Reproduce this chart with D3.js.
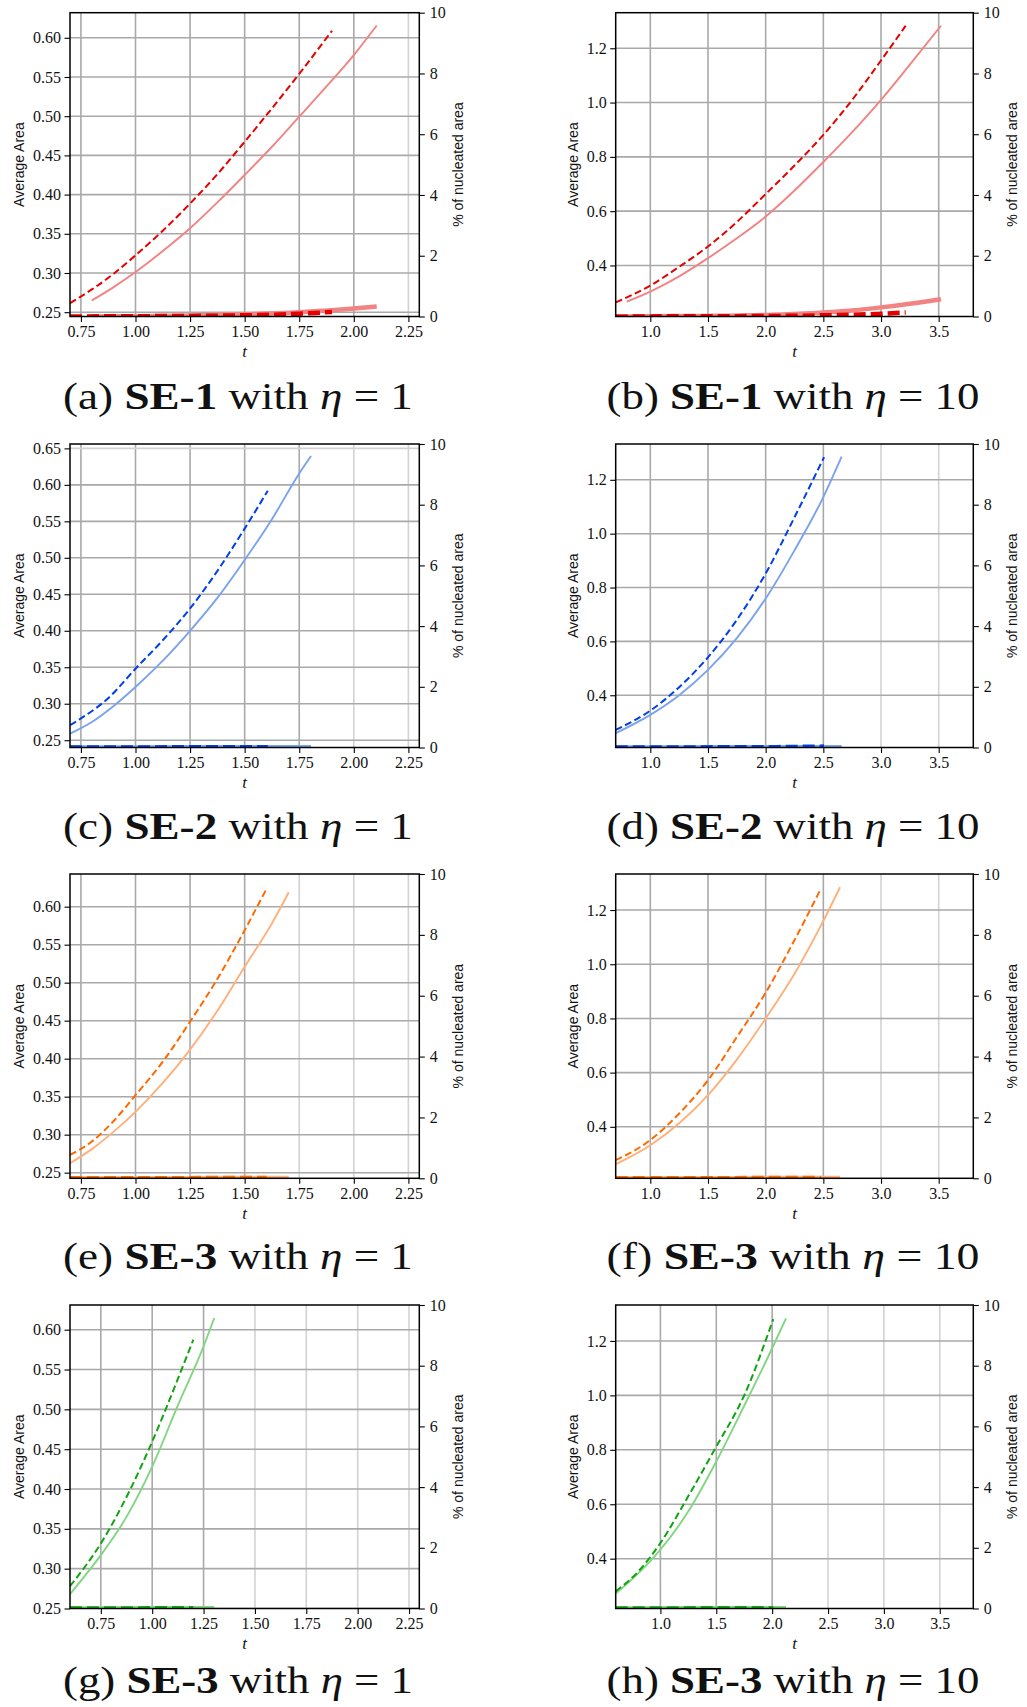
<!DOCTYPE html>
<html>
<head>
<meta charset="utf-8">
<script src="https://cdnjs.cloudflare.com/ajax/libs/d3/7.8.5/d3.min.js"></script>
<style>
html, body { margin: 0; padding: 0; background: #fff; }
svg { display: block; }
</style>
</head>
<body>
<svg id="fig" width="1027" height="1707"></svg>
<script>
// tick values
var X_TICKS_SHORT = [0.75, 1.00, 1.25, 1.50, 1.75, 2.00, 2.25];
var X_TICKS_LONG = [1.0, 1.5, 2.0, 2.5, 3.0, 3.5];
var Y_TICKS_SMALL = [0.25, 0.30, 0.35, 0.40, 0.45, 0.50, 0.55, 0.60];
var Y_TICKS_SMALL_C = [0.25, 0.30, 0.35, 0.40, 0.45, 0.50, 0.55, 0.60, 0.65];
var Y_TICKS_LARGE = [0.4, 0.6, 0.8, 1.0, 1.2];
var RIGHT_TICKS = [0, 2, 4, 6, 8, 10];

// (a) SE-1, eta = 1
var a_dash = [[0.70,0.2615],[0.80,0.279],[0.90,0.299],[1.00,0.3225],[1.125,0.354],[1.25,0.3886],[1.375,0.426],[1.50,0.4674],[1.625,0.510],[1.75,0.554],[1.90,0.609]];
var a_solid = [[0.80,0.265],[0.90,0.282],[1.00,0.3012],[1.125,0.328],[1.25,0.357],[1.375,0.390],[1.50,0.425],[1.625,0.461],[1.75,0.4994],[1.875,0.538],[2.00,0.578],[2.105,0.6157]];
var a_nSolid = [[0.80,0.0],[1.00,0.01],[1.25,0.03],[1.50,0.07],[1.75,0.14],[2.00,0.26],[2.105,0.33]];
var a_nDash = [[0.70,0.0],[1.00,0.01],[1.25,0.02],[1.50,0.04],[1.75,0.09],[1.90,0.15]];

// (b) SE-1, eta = 10
var b_dash = [[0.70,0.264],[1.00,0.326],[1.25,0.395],[1.50,0.470],[1.75,0.560],[2.00,0.663],[2.25,0.768],[2.50,0.881],[2.75,1.010],[3.00,1.155],[3.214,1.283]];
var b_solid = [[0.795,0.267],[1.00,0.304],[1.25,0.360],[1.50,0.427],[1.75,0.500],[2.00,0.580],[2.25,0.676],[2.50,0.781],[2.75,0.891],[3.00,1.010],[3.25,1.140],[3.52,1.283]];
var b_nSolid = [[0.795,0.0],[1.00,0.01],[1.50,0.02],[2.00,0.05],[2.50,0.13],[2.75,0.20],[3.00,0.30],[3.25,0.42],[3.52,0.57]];
var b_nDash = [[0.70,0.0],[1.50,0.01],[2.00,0.015],[2.50,0.04],[2.75,0.06],[3.00,0.09],[3.214,0.13]];

// (c) SE-2, eta = 1
var c_dash = [[0.70,0.2706],[0.75,0.2798],[0.88,0.309],[1.00,0.348],[1.125,0.387],[1.25,0.4306],[1.375,0.482],[1.50,0.540],[1.606,0.592]];
var c_solid = [[0.70,0.259],[0.80,0.275],[0.90,0.297],[1.00,0.323],[1.125,0.359],[1.25,0.400],[1.375,0.445],[1.50,0.497],[1.625,0.553],[1.75,0.6157],[1.804,0.6395]];
var c_nSolid = [[0.70,0.0],[1.30,0.005],[1.804,0.01]];
var c_nDash = [[0.70,0.0],[1.20,0.005],[1.606,0.01]];

// (d) SE-2, eta = 10
var d_dash = [[0.70,0.2715],[1.00,0.343],[1.25,0.430],[1.50,0.541],[1.75,0.680],[2.00,0.852],[2.25,1.061],[2.506,1.284]];
var d_solid = [[0.70,0.259],[1.00,0.327],[1.25,0.400],[1.50,0.494],[1.75,0.612],[2.00,0.759],[2.25,0.938],[2.50,1.136],[2.659,1.286]];
var d_nSolid = [[0.70,0.0],[1.70,0.005],[2.659,0.01]];
var d_nDash = [[0.70,0.0],[2.00,0.01],[2.506,0.03]];

// (e) SE-3, eta = 1
var e_dash = [[0.70,0.2733],[0.80,0.291],[0.90,0.318],[1.00,0.352],[1.125,0.396],[1.25,0.4487],[1.375,0.505],[1.50,0.569],[1.601,0.624]];
var e_solid = [[0.70,0.2624],[0.80,0.281],[0.90,0.304],[1.00,0.330],[1.125,0.368],[1.25,0.412],[1.375,0.463],[1.50,0.521],[1.625,0.578],[1.702,0.619]];
var e_nSolid = [[0.70,0.0],[1.20,0.005],[1.702,0.01]];
var e_nDash = [[0.70,0.0],[1.20,0.005],[1.601,0.01]];

// (f) SE-3, eta = 10
var f_dash = [[0.70,0.277],[1.00,0.351],[1.25,0.449],[1.50,0.572],[1.75,0.731],[2.00,0.895],[2.25,1.089],[2.48,1.280]];
var f_solid = [[0.70,0.262],[1.00,0.332],[1.25,0.413],[1.50,0.517],[1.75,0.648],[2.00,0.800],[2.25,0.965],[2.50,1.160],[2.645,1.284]];
var f_nSolid = [[0.70,0.0],[1.70,0.005],[2.645,0.01]];
var f_nDash = [[0.70,0.0],[1.70,0.005],[2.48,0.01]];

// (g) SE-3, eta = 1
var g_dash = [[0.60,0.278],[0.75,0.3317],[0.90,0.403],[1.00,0.4595],[1.10,0.522],[1.20,0.5874]];
var g_solid = [[0.60,0.268],[0.70,0.300],[0.75,0.317],[0.875,0.365],[1.00,0.428],[1.125,0.505],[1.25,0.579],[1.302,0.6147]];
var g_nSolid = [[0.60,0.0],[1.00,0.005],[1.302,0.01]];
var g_nDash = [[0.60,0.0],[1.00,0.005],[1.20,0.01]];

// (h) SE-3, eta = 10
var h_dash = [[0.60,0.280],[0.80,0.352],[1.00,0.4576],[1.25,0.630],[1.50,0.812],[1.75,1.000],[2.01,1.280]];
var h_solid = [[0.60,0.272],[0.80,0.345],[1.00,0.433],[1.25,0.574],[1.50,0.757],[1.75,0.962],[2.00,1.173],[2.124,1.283]];
var h_nSolid = [[0.60,0.0],[1.40,0.005],[2.124,0.01]];
var h_nDash = [[0.60,0.0],[1.40,0.005],[2.01,0.01]];

var COLORS = {
  red:    { dark: "#e60000", light: "#f28383" },
  blue:   { dark: "#0040e6", light: "#7ba2ee" },
  orange: { dark: "#ff6a00", light: "#ffb07a" },
  green:  { dark: "#10a510", light: "#82d682" }
};

var SERIF = "'Liberation Serif', 'Times New Roman', Times, serif";
var SANS = "'Liberation Sans', Arial, Helvetica, sans-serif";

// layout of the 2 x 4 grid of subfigures
var COL_X = [[70, 419.3], [615.7, 973.3]];
var ROW_Y = [[12.7, 316.5], [444, 747.5], [874, 1178.3], [1305, 1608.5]];
var CAPTION_DY = [92, 91.5, 91, 84];
var CAPTION_CX = [238, 793];
var CAPTION_W = [350, 373];
var GRID = "#a9a9a9", GRID_LIGHT = "#d2d2d2";

var panels = [
  {key: "a", col: 0, row: 0, se: "SE-1", eta: "1",  color: "red",    xDom: [0.70, 2.30], yDom: [0.2445, 0.632], xTicks: X_TICKS_SHORT, yTicks: Y_TICKS_SMALL,   dash: a_dash, solid: a_solid, nDash: a_nDash, nSolid: a_nSolid},
  {key: "b", col: 1, row: 0, se: "SE-1", eta: "10", color: "red",    xDom: [0.70, 3.80], yDom: [0.212, 1.331],  xTicks: X_TICKS_LONG,  yTicks: Y_TICKS_LARGE,   dash: b_dash, solid: b_solid, nDash: b_nDash, nSolid: b_nSolid},
  {key: "c", col: 0, row: 1, se: "SE-2", eta: "1",  color: "blue",   xDom: [0.70, 2.30], yDom: [0.240, 0.656],  xTicks: X_TICKS_SHORT, yTicks: Y_TICKS_SMALL_C, dash: c_dash, solid: c_solid, nDash: c_nDash, nSolid: c_nSolid},
  {key: "d", col: 1, row: 1, se: "SE-2", eta: "10", color: "blue",   xDom: [0.70, 3.80], yDom: [0.206, 1.333],  xTicks: X_TICKS_LONG,  yTicks: Y_TICKS_LARGE,   dash: d_dash, solid: d_solid, nDash: d_nDash, nSolid: d_nSolid},
  {key: "e", col: 0, row: 2, se: "SE-3", eta: "1",  color: "orange", xDom: [0.70, 2.30], yDom: [0.2426, 0.643], xTicks: X_TICKS_SHORT, yTicks: Y_TICKS_SMALL,   dash: e_dash, solid: e_solid, nDash: e_nDash, nSolid: e_nSolid},
  {key: "f", col: 1, row: 2, se: "SE-3", eta: "10", color: "orange", xDom: [0.70, 3.80], yDom: [0.210, 1.333],  xTicks: X_TICKS_LONG,  yTicks: Y_TICKS_LARGE,   dash: f_dash, solid: f_solid, nDash: f_nDash, nSolid: f_nSolid},
  {key: "g", col: 0, row: 3, se: "SE-3", eta: "1",  color: "green",  xDom: [0.60, 2.30], yDom: [0.25, 0.631],   xTicks: X_TICKS_SHORT, yTicks: Y_TICKS_SMALL,   dash: g_dash, solid: g_solid, nDash: g_nDash, nSolid: g_nSolid},
  {key: "h", col: 1, row: 3, se: "SE-3", eta: "10", color: "green",  xDom: [0.60, 3.80], yDom: [0.217, 1.332],  xTicks: X_TICKS_LONG,  yTicks: Y_TICKS_LARGE,   dash: h_dash, solid: h_solid, nDash: h_nDash, nSolid: h_nSolid}
];

var svg = d3.select("#fig");
var defs = svg.append("defs");

panels.forEach(function(p) {
  var x0 = COL_X[p.col][0], x1 = COL_X[p.col][1];
  var y0 = ROW_Y[p.row][0], y1 = ROW_Y[p.row][1];
  var x = d3.scaleLinear().domain(p.xDom).range([x0, x1]);
  var y = d3.scaleLinear().domain(p.yDom).range([y1, y0]);
  var y2 = d3.scaleLinear().domain([0, 10]).range([y1, y0]);
  var col = COLORS[p.color];
  var fmt = p.col === 0 ? d3.format(".2f") : d3.format(".1f");

  var clipId = "clip-" + p.key;
  defs.append("clipPath").attr("id", clipId).append("rect")
      .attr("x", x0).attr("y", y0).attr("width", x1 - x0).attr("height", y1 - y0);

  var g = svg.append("g").attr("class", "panel-" + p.key);

  // grid: lines past the end of the data come out lighter in the original
  var tMax = d3.max([].concat(p.dash, p.solid, p.nDash, p.nSolid), function(d) { return d[0]; });
  var vMax = d3.max([].concat(p.dash, p.solid), function(d) { return d[1]; });
  var grid = g.append("g").attr("clip-path", "url(#" + clipId + ")");
  grid.selectAll("line.gv").data(p.xTicks).join("line").attr("class", "gv")
      .attr("x1", function(d) { return x(d); }).attr("x2", function(d) { return x(d); })
      .attr("y1", y0).attr("y2", y1)
      .attr("stroke", function(d) { return d > tMax ? GRID_LIGHT : GRID; })
      .attr("stroke-width", 1.6);
  grid.selectAll("line.gh").data(p.yTicks).join("line").attr("class", "gh")
      .attr("x1", x0).attr("x2", x1)
      .attr("y1", function(d) { return y(d); }).attr("y2", function(d) { return y(d); })
      .attr("stroke", function(d) { return d > vMax ? GRID_LIGHT : GRID; })
      .attr("stroke-width", 1.6);

  var line = d3.line().x(function(d) { return x(d[0]); }).y(function(d) { return y(d[1]); })
      .curve(d3.curveMonotoneX);
  var line2 = d3.line().x(function(d) { return x(d[0]); }).y(function(d) { return y2(d[1]); })
      .curve(d3.curveMonotoneX);

  var marks = g.append("g").attr("clip-path", "url(#" + clipId + ")").attr("fill", "none");
  marks.append("path").datum(p.solid).attr("d", line)
      .attr("stroke", col.light).attr("stroke-width", 1.9);
  marks.append("path").datum(p.dash).attr("d", line)
      .attr("stroke", col.dark).attr("stroke-width", 2).attr("stroke-dasharray", "7,3.5");
  marks.append("path").datum(p.nSolid).attr("d", line2)
      .attr("stroke", col.light).attr("stroke-width", 4.5);
  marks.append("path").datum(p.nDash).attr("d", line2)
      .attr("stroke", col.dark).attr("stroke-width", 4.5).attr("stroke-dasharray", "12,5");

  // axes
  var axL = g.append("g").attr("transform", "translate(" + x0 + ",0)")
      .call(d3.axisLeft(y).tickValues(p.yTicks).tickFormat(fmt).tickSize(5.5).tickPadding(3.5));
  var axB = g.append("g").attr("transform", "translate(0," + y1 + ")")
      .call(d3.axisBottom(x).tickValues(p.xTicks).tickFormat(fmt).tickSize(5.5).tickPadding(4));
  var axR = g.append("g").attr("transform", "translate(" + x1 + ",0)")
      .call(d3.axisRight(y2).tickValues(RIGHT_TICKS).tickFormat(d3.format("d")).tickSize(5.5).tickPadding(5));
  [axL, axB, axR].forEach(function(a) {
    a.attr("font-family", SERIF).attr("font-size", 16);
    a.select(".domain").remove();
    a.selectAll(".tick line").attr("stroke", "#000").attr("stroke-width", 1.1);
    a.selectAll(".tick text").attr("fill", "#111")
        .style("font-family", SERIF).style("font-size", "16px");
  });

  // frame
  g.append("rect").attr("x", x0).attr("y", y0).attr("width", x1 - x0).attr("height", y1 - y0)
      .attr("fill", "none").attr("stroke", "#000").attr("stroke-width", 1.5);

  // axis labels
  var lb = axL.node().getBBox();
  g.append("text").style("font-family", SANS).style("font-size", "14px").attr("fill", "#111")
      .attr("transform", "translate(" + (x0 + lb.x - 13.5) + "," + ((y0 + y1) / 2) + ") rotate(-90)")
      .attr("text-anchor", "middle").attr("dy", "0.35em").text("Average Area");
  var rb = axR.node().getBBox();
  g.append("text").style("font-family", SANS).style("font-size", "14px").attr("fill", "#111")
      .attr("transform", "translate(" + (x1 + rb.x + rb.width + 12.5) + "," + ((y0 + y1) / 2) + ") rotate(-90)")
      .attr("text-anchor", "middle").attr("dy", "0.35em").text("% of nucleated area");
  g.append("text").style("font-family", SERIF).style("font-size", "17px").style("font-style", "italic")
      .attr("fill", "#111")
      .attr("x", (x0 + x1) / 2).attr("y", y1 + 40.5)
      .attr("text-anchor", "middle").text("t");

  // caption
  var capG = g.append("g");
  var cap = capG.append("text").style("font-family", SERIF).style("font-size", "38px")
      .attr("fill", "#111").attr("text-anchor", "middle");
  cap.append("tspan").text("(" + p.key + ") ");
  cap.append("tspan").attr("font-weight", "bold").text(p.se);
  cap.append("tspan").text(" with ");
  cap.append("tspan").attr("font-style", "italic").text("\u03b7");
  cap.append("tspan").text(" = " + p.eta);
  var w = cap.node().getComputedTextLength();
  capG.attr("transform", "translate(" + CAPTION_CX[p.col] + "," + (y1 + CAPTION_DY[p.row]) + ") scale(" + (CAPTION_W[p.col] / w) + ",1)");
});
</script>
</body>
</html>
